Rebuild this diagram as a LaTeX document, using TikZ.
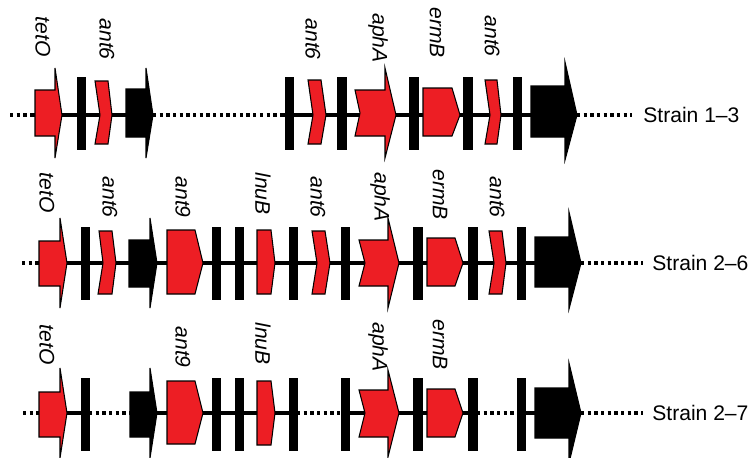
\documentclass[tikz,border=0pt]{standalone}
\usepackage{fontspec}
\setmainfont{Liberation Sans}
\usepackage{tikz}
\usetikzlibrary{positioning}

\definecolor{genered}{RGB}{237,30,36}

\begin{document}
\begin{tikzpicture}[x=0.02cm,y=-0.02cm,
    backbone/.style={line width=2.8pt},
    gapline/.style={line width=2.3pt,dash pattern=on 1.9pt off 1.9pt},
    gene/.style={fill=genered,draw=black,line width=0.6pt,line join=miter},
    mobile/.style={fill=black,draw=black,line width=0.6pt},
    border/.style={fill=black},
    genelabel/.style={rotate=-90,anchor=east,inner sep=0pt,font=\fontsize{12}{14}\selectfont\itshape},
    strainlabel/.style={anchor=west,inner sep=0pt,font=\fontsize{12}{14}\selectfont}]
  \useasboundingbox (0,0) rectangle (749,457);

  % strain 1-3
  \draw[gapline] (10,115) -- (33,115);
  \draw[gapline] (153,115) -- (283,115);
  \draw[backbone] (33,115) -- (153,115);
  \draw[backbone] (283,115) -- (577,115);
  \node[strainlabel] (s13) at (643,115) {Strain 1--3};
  \draw[gapline] (577,115) -- (632,115);
  \draw[gene] (35,90) -- (55,90) -- (55,68) -- (62,115) -- (55,158) -- (55,136) -- (35,136) -- cycle;
  \draw[border] (77,77) rectangle (85,149);
  \draw[gene] (95,81) -- (108,81) -- (112,115) -- (108,144) -- (95,144) -- (100,115) -- cycle;
  \draw[mobile] (126,89) -- (146,89) -- (146,68) -- (153,115) -- (146,158) -- (146,137) -- (126,137) -- cycle;
  \draw[border] (285,77) rectangle (293,149);
  \draw[gene] (308,80) -- (321,80) -- (326,115) -- (321,144) -- (308,144) -- (313,115) -- cycle;
  \draw[border] (337,77) rectangle (346,149);
  \draw[gene] (355,90) -- (385,90) -- (385,68) -- (396,115) -- (385,158) -- (385,136) -- (355,136) -- (360,113) -- cycle;
  \draw[border] (409,77) rectangle (418,149);
  \draw[gene] (423,88) -- (452,88) -- (460,115) -- (452,136) -- (423,136) -- cycle;
  \draw[border] (463,77) rectangle (472,149);
  \draw[gene] (485,80) -- (497,80) -- (501,115) -- (497,144) -- (485,144) -- (490,115) -- cycle;
  \draw[border] (513,77) rectangle (521,149);
  \draw[mobile] (531,86) -- (565,86) -- (565,62) -- (577,115) -- (565,160) -- (565,137) -- (531,137) -- cycle;
  \node[genelabel] (tetOa) at (43,57) {tetO};
  \node[genelabel] (ant6a) at (107,60) {ant6};
  \node[genelabel] (ant6b) at (313,60) {ant6};
  \node[genelabel] (aphAa) at (378,63) {aphA};
  \node[genelabel] (ermBa) at (437,58) {ermB};
  \node[genelabel] (ant6c) at (492,57) {ant6};

  % strain 2-6
  \draw[gapline] (22,263) -- (37,263);
  \draw[backbone] (37,263) -- (581,263);
  \node[strainlabel] (s26) at (652,263) {Strain 2--6};
  \draw[gapline] (581,263) -- (643,263);
  \draw[gene] (39,241) -- (60,241) -- (60,218) -- (67,263) -- (60,308) -- (60,286) -- (39,286) -- cycle;
  \draw[border] (81,227) rectangle (89,299);
  \draw[gene] (99,231) -- (112,231) -- (116,263) -- (112,294) -- (98,294) -- (103,263) -- cycle;
  \draw[mobile] (129,240) -- (150,240) -- (150,218) -- (157,263) -- (150,308) -- (150,287) -- (129,287) -- cycle;
  \draw[gene] (167,230) -- (195,230) -- (203,263) -- (195,294) -- (167,294) -- cycle;
  \draw[border] (212,227) rectangle (220,299);
  \draw[border] (235,227) rectangle (243,299);
  \draw[gene] (257,230) -- (271,230) -- (275,263) -- (271,294) -- (257,294) -- cycle;
  \draw[border] (289,227) rectangle (297,299);
  \draw[gene] (312,231) -- (325,231) -- (330,263) -- (325,294) -- (312,294) -- (317,263) -- cycle;
  \draw[border] (341,227) rectangle (349,299);
  \draw[gene] (359,240) -- (388,240) -- (388,218) -- (399,263) -- (388,308) -- (388,286) -- (359,286) -- (365,263) -- cycle;
  \draw[border] (413,227) rectangle (422,299);
  \draw[gene] (427,238) -- (455,238) -- (463,263) -- (455,286) -- (427,286) -- cycle;
  \draw[border] (468,227) rectangle (477,299);
  \draw[gene] (489,231) -- (502,231) -- (506,263) -- (502,294) -- (489,294) -- (494,263) -- cycle;
  \draw[border] (517,227) rectangle (525,299);
  \draw[mobile] (535,237) -- (569,237) -- (569,212) -- (581,263) -- (569,309) -- (569,287) -- (535,287) -- cycle;
  \node[genelabel] (tetOb) at (47,213) {tetO};
  \node[genelabel] (ant6d) at (110,218) {ant6};
  \node[genelabel] (ant9a) at (183,218) {ant9};
  \node[genelabel] (lnuBa) at (263,215) {lnuB};
  \node[genelabel] (ant6e) at (318,218) {ant6};
  \node[genelabel] (aphAb) at (380,222) {aphA};
  \node[genelabel] (ermBb) at (440,220) {ermB};
  \node[genelabel] (ant6f) at (497,218) {ant6};

  % strain 2-7
  \draw[gapline] (23,413) -- (39,413);
  \draw[gapline] (89,413) -- (130,413);
  \draw[gapline] (297,413) -- (341,413);
  \draw[gapline] (477,413) -- (517,413);
  \draw[backbone] (39,413) -- (89,413);
  \draw[backbone] (130,413) -- (297,413);
  \draw[backbone] (341,413) -- (477,413);
  \draw[backbone] (517,413) -- (581,413);
  \node[strainlabel] (s27) at (652,413) {Strain 2--7};
  \draw[gapline] (581,413) -- (643,413);
  \draw[gene] (39,392) -- (60,392) -- (60,368) -- (67,413) -- (60,458) -- (60,437) -- (39,437) -- cycle;
  \draw[border] (81,378) rectangle (89,450);
  \draw[mobile] (130,392) -- (150,392) -- (150,368) -- (157,413) -- (150,458) -- (150,437) -- (130,437) -- cycle;
  \draw[gene] (167,381) -- (195,381) -- (203,413) -- (195,444) -- (167,444) -- cycle;
  \draw[border] (212,378) rectangle (220,450);
  \draw[border] (235,378) rectangle (243,450);
  \draw[gene] (257,381) -- (271,381) -- (275,413) -- (271,445) -- (257,445) -- cycle;
  \draw[border] (289,378) rectangle (297,450);
  \draw[border] (341,378) rectangle (349,450);
  \draw[gene] (359,390) -- (388,390) -- (388,370) -- (399,413) -- (388,457) -- (388,437) -- (359,437) -- (365,413) -- cycle;
  \draw[border] (413,378) rectangle (422,450);
  \draw[gene] (427,389) -- (455,389) -- (463,413) -- (455,437) -- (427,437) -- cycle;
  \draw[border] (468,378) rectangle (477,450);
  \draw[border] (517,378) rectangle (525,450);
  \draw[mobile] (535,388) -- (569,388) -- (569,363) -- (581,413) -- (569,463) -- (569,438) -- (535,438) -- cycle;
  \node[genelabel] (tetOc) at (47,365) {tetO};
  \node[genelabel] (ant9b) at (183,368) {ant9};
  \node[genelabel] (lnuBb) at (263,365) {lnuB};
  \node[genelabel] (aphAc) at (378,372) {aphA};
  \node[genelabel] (ermBc) at (440,370) {ermB};
\end{tikzpicture}
\end{document}
